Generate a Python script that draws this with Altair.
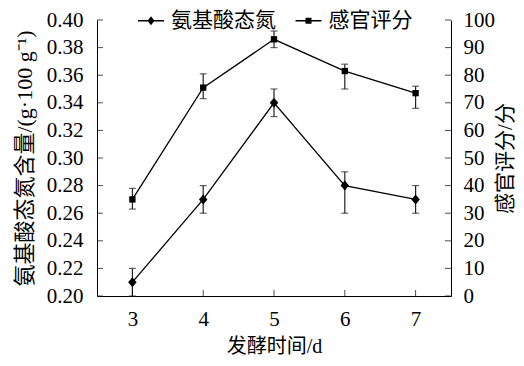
import altair as alt
import pandas as pd

# ---- data ----
days = [3, 4, 5, 6, 7]
amino = [0.21, 0.27, 0.34, 0.28, 0.27]
amino_lo = [0.20, 0.26, 0.33, 0.26, 0.26]
amino_hi = [0.22, 0.28, 0.35, 0.29, 0.28]
sensory = [35.0, 75.5, 93.0, 81.5, 73.5]
sensory_lo = [31.5, 71.5, 90.0, 75.0, 68.0]
sensory_hi = [39.0, 80.5, 96.0, 84.0, 76.0]
left_tick_values = [0.20, 0.22, 0.24, 0.26, 0.28, 0.30, 0.32, 0.34, 0.36, 0.38, 0.40]
right_tick_values = [0, 10, 20, 30, 40, 50, 60, 70, 80, 90, 100]
series_names = ["氨基酸态氮", "感官评分"]

df_a = pd.DataFrame({"day": days, "val": amino, "lo": amino_lo, "hi": amino_hi})
df_s = pd.DataFrame({"day": days, "val": sensory, "lo": sensory_lo, "hi": sensory_hi})
df_lt = pd.DataFrame({"t": left_tick_values})
df_rt = pd.DataFrame({"t": right_tick_values})
df_days = pd.DataFrame({"d": days})
df_leg = pd.DataFrame({"s": series_names})

W, H = 354, 276
FONT = "Liberation Serif, Noto Sans CJK SC"
INK = "black"
ERR = "#222222"

DIAMOND = "M0,-1L0.85,0L0,1L-0.85,0Z"
# legend symbols: a thin filled bar (the line) plus the marker
LEG_D = "M-1.73,-0.09H1.73V0.09H-1.73ZM0,-0.6L0.47,0L0,0.6L-0.47,0Z"
LEG_S = "M-1.73,-0.09H1.73V0.09H-1.73ZM-0.4,-0.4H0.4V0.4H-0.4Z"

xscale = alt.Scale(domain=[2.5, 7.5], nice=False, zero=False)
xaxis = alt.Axis(values=days, format="d", title="发酵时间/d", labelPadding=12,
                 titlePadding=7, titleFontSize=20)
lscale = alt.Scale(domain=[0.20, 0.40], nice=False, zero=False)
laxis = alt.Axis(orient="left", values=left_tick_values, format=".2f",
                 title="氨基酸态氮含量/(g·100 g⁻¹)", labelPadding=14, titlePadding=10,
                 titleFontSize=22)
rscale = alt.Scale(domain=[0, 100], nice=False, zero=True)
raxis = alt.Axis(orient="right", values=right_tick_values, format="d",
                 title="感官评分/分", labelPadding=12, titlePadding=21, titleAngle=270,
                 titleFontSize=21)


def X(f):
    return alt.X(f"{f}:Q", scale=xscale, axis=xaxis)


def YL(f):
    return alt.Y(f"{f}:Q", scale=lscale, axis=laxis)


def YR(f):
    return alt.Y(f"{f}:Q", scale=rscale, axis=raxis)


def series_layers(df, Y, point_mark):
    base = alt.Chart(df)
    err = base.mark_rule(color=ERR, strokeWidth=1.2).encode(x=X("day"), y=Y("lo"), y2="hi")
    cap_lo = base.mark_tick(orient="horizontal", size=7, thickness=1.2, color=ERR).encode(
        x=X("day"), y=Y("lo"))
    cap_hi = base.mark_tick(orient="horizontal", size=7, thickness=1.2, color=ERR).encode(
        x=X("day"), y=Y("hi"))
    line = base.mark_line(color=INK, strokeWidth=1.3).encode(x=X("day"), y=Y("val"))
    pts = point_mark(base).encode(x=X("day"), y=Y("val"))
    return [err, cap_lo, cap_hi, line, pts]


left_layers = series_layers(
    df_a, YL,
    lambda b: b.mark_point(shape=DIAMOND, size=100, filled=True, color=INK, opacity=1))
right_layers = series_layers(
    df_s, YR,
    lambda b: b.mark_point(shape="square", size=40, filled=True, color=INK, opacity=1))

left_ticks = alt.Chart(df_lt).mark_tick(orient="horizontal", size=6, thickness=1, color=INK).encode(
    x=alt.value(3), y=YL("t"))
right_ticks = alt.Chart(df_rt).mark_tick(orient="horizontal", size=6, thickness=1, color=INK).encode(
    x=alt.value(W - 3), y=YR("t"))
bottom_ticks = alt.Chart(df_days).mark_tick(orient="vertical", size=6, thickness=1, color=INK).encode(
    x=X("d"), y=alt.value(H - 3))

legend_layer = alt.Chart(df_leg).mark_point(filled=True, color=INK, opacity=0).encode(
    shape=alt.Shape("s:N", scale=alt.Scale(domain=series_names, range=[LEG_D, LEG_S]),
                    legend=alt.Legend(title=None, orient="none", direction="horizontal",
                                      legendX=43.5, legendY=-10, padding=0,
                                      symbolSize=225, symbolOpacity=1,
                                      symbolFillColor=INK, symbolStrokeWidth=0,
                                      labelOffset=9.5,
                                      columnPadding=18.5, labelFont=FONT,
                                      labelFontSize=21, labelColor=INK)))

left = alt.layer(*left_layers, left_ticks, bottom_ticks, legend_layer)
right = alt.layer(*right_layers, right_ticks)

chart = (
    alt.layer(left, right)
    .resolve_scale(y="independent")
    .properties(width=W, height=H, autosize="none",
                padding={"left": 89, "top": 12, "right": 65, "bottom": 62})
    .configure_view(strokeWidth=0)
    .configure_axis(grid=False, ticks=False, tickSize=0, domainColor=INK, domainWidth=1,
                    labelColor=INK, titleColor=INK, labelFont=FONT, titleFont=FONT,
                    labelFontSize=21, titleFontSize=21, titleFontWeight="normal")
)

chart.save("out.html", embed_options={"renderer": "svg", "actions": False})
